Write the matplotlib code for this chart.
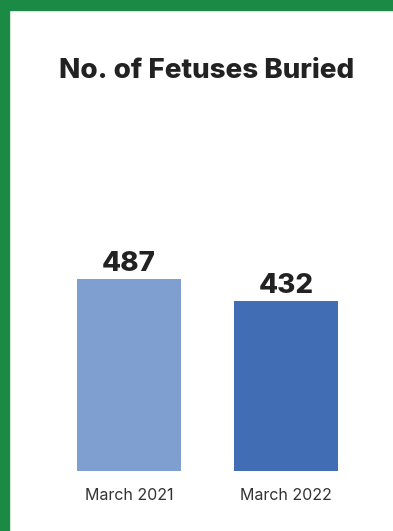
import matplotlib.pyplot as plt
from matplotlib.patches import Rectangle

categories = ['March 2021', 'March 2022']
fetuses_buried = [487, 432]
bar_colors = ['#7f9fd0', '#416db5']

plt.rcParams['font.family'] = ['Inter', 'DejaVu Sans']

W, H = 393, 531
fig = plt.figure(figsize=(W / 100, H / 100), dpi=100)
fig.patch.set_facecolor('white')

# green frame on top and left
fig.patches.append(Rectangle((0, 1 - 10 / H), 1, 10 / H, transform=fig.transFigure,
                             color='#1a8a45', zorder=0))
fig.patches.append(Rectangle((0, 0), 9 / W, 1, transform=fig.transFigure,
                             color='#1a8a45', zorder=0))

# axes: bottom at y=471px, x positions 0/1 at 129px/286px
left_px, right_px = 30, 385
bottom_px, top_px = 471, 100
ax = fig.add_axes([left_px / W, 1 - bottom_px / H,
                   (right_px - left_px) / W, (bottom_px - top_px) / H])
step = 157
ax.set_xlim((left_px - 129) / step, (right_px - 129) / step)
ax.set_ylim(0, 487 * (bottom_px - top_px) / 192)

x = range(len(categories))
bars = ax.bar(x, fetuses_buried, width=104 / step, color=bar_colors)
for b, v in zip(bars, fetuses_buried):
    ax.text(b.get_x() + b.get_width() / 2, v + 5, str(v), ha='center', va='bottom',
            fontsize=20, fontweight='heavy', color='#222222')

ax.set_xticks(list(x))
ax.set_xticklabels(categories, fontsize=11.5, color='#333333')
ax.tick_params(axis='x', length=0, pad=12)
ax.set_yticks([])
for s in ax.spines.values():
    s.set_visible(False)

fig.text(207 / W, 1 - 71 / H, 'No. of Fetuses Buried', ha='center', va='center',
         fontsize=20, fontweight='heavy', color='#222222')

fig.savefig('out.png', dpi=100)
